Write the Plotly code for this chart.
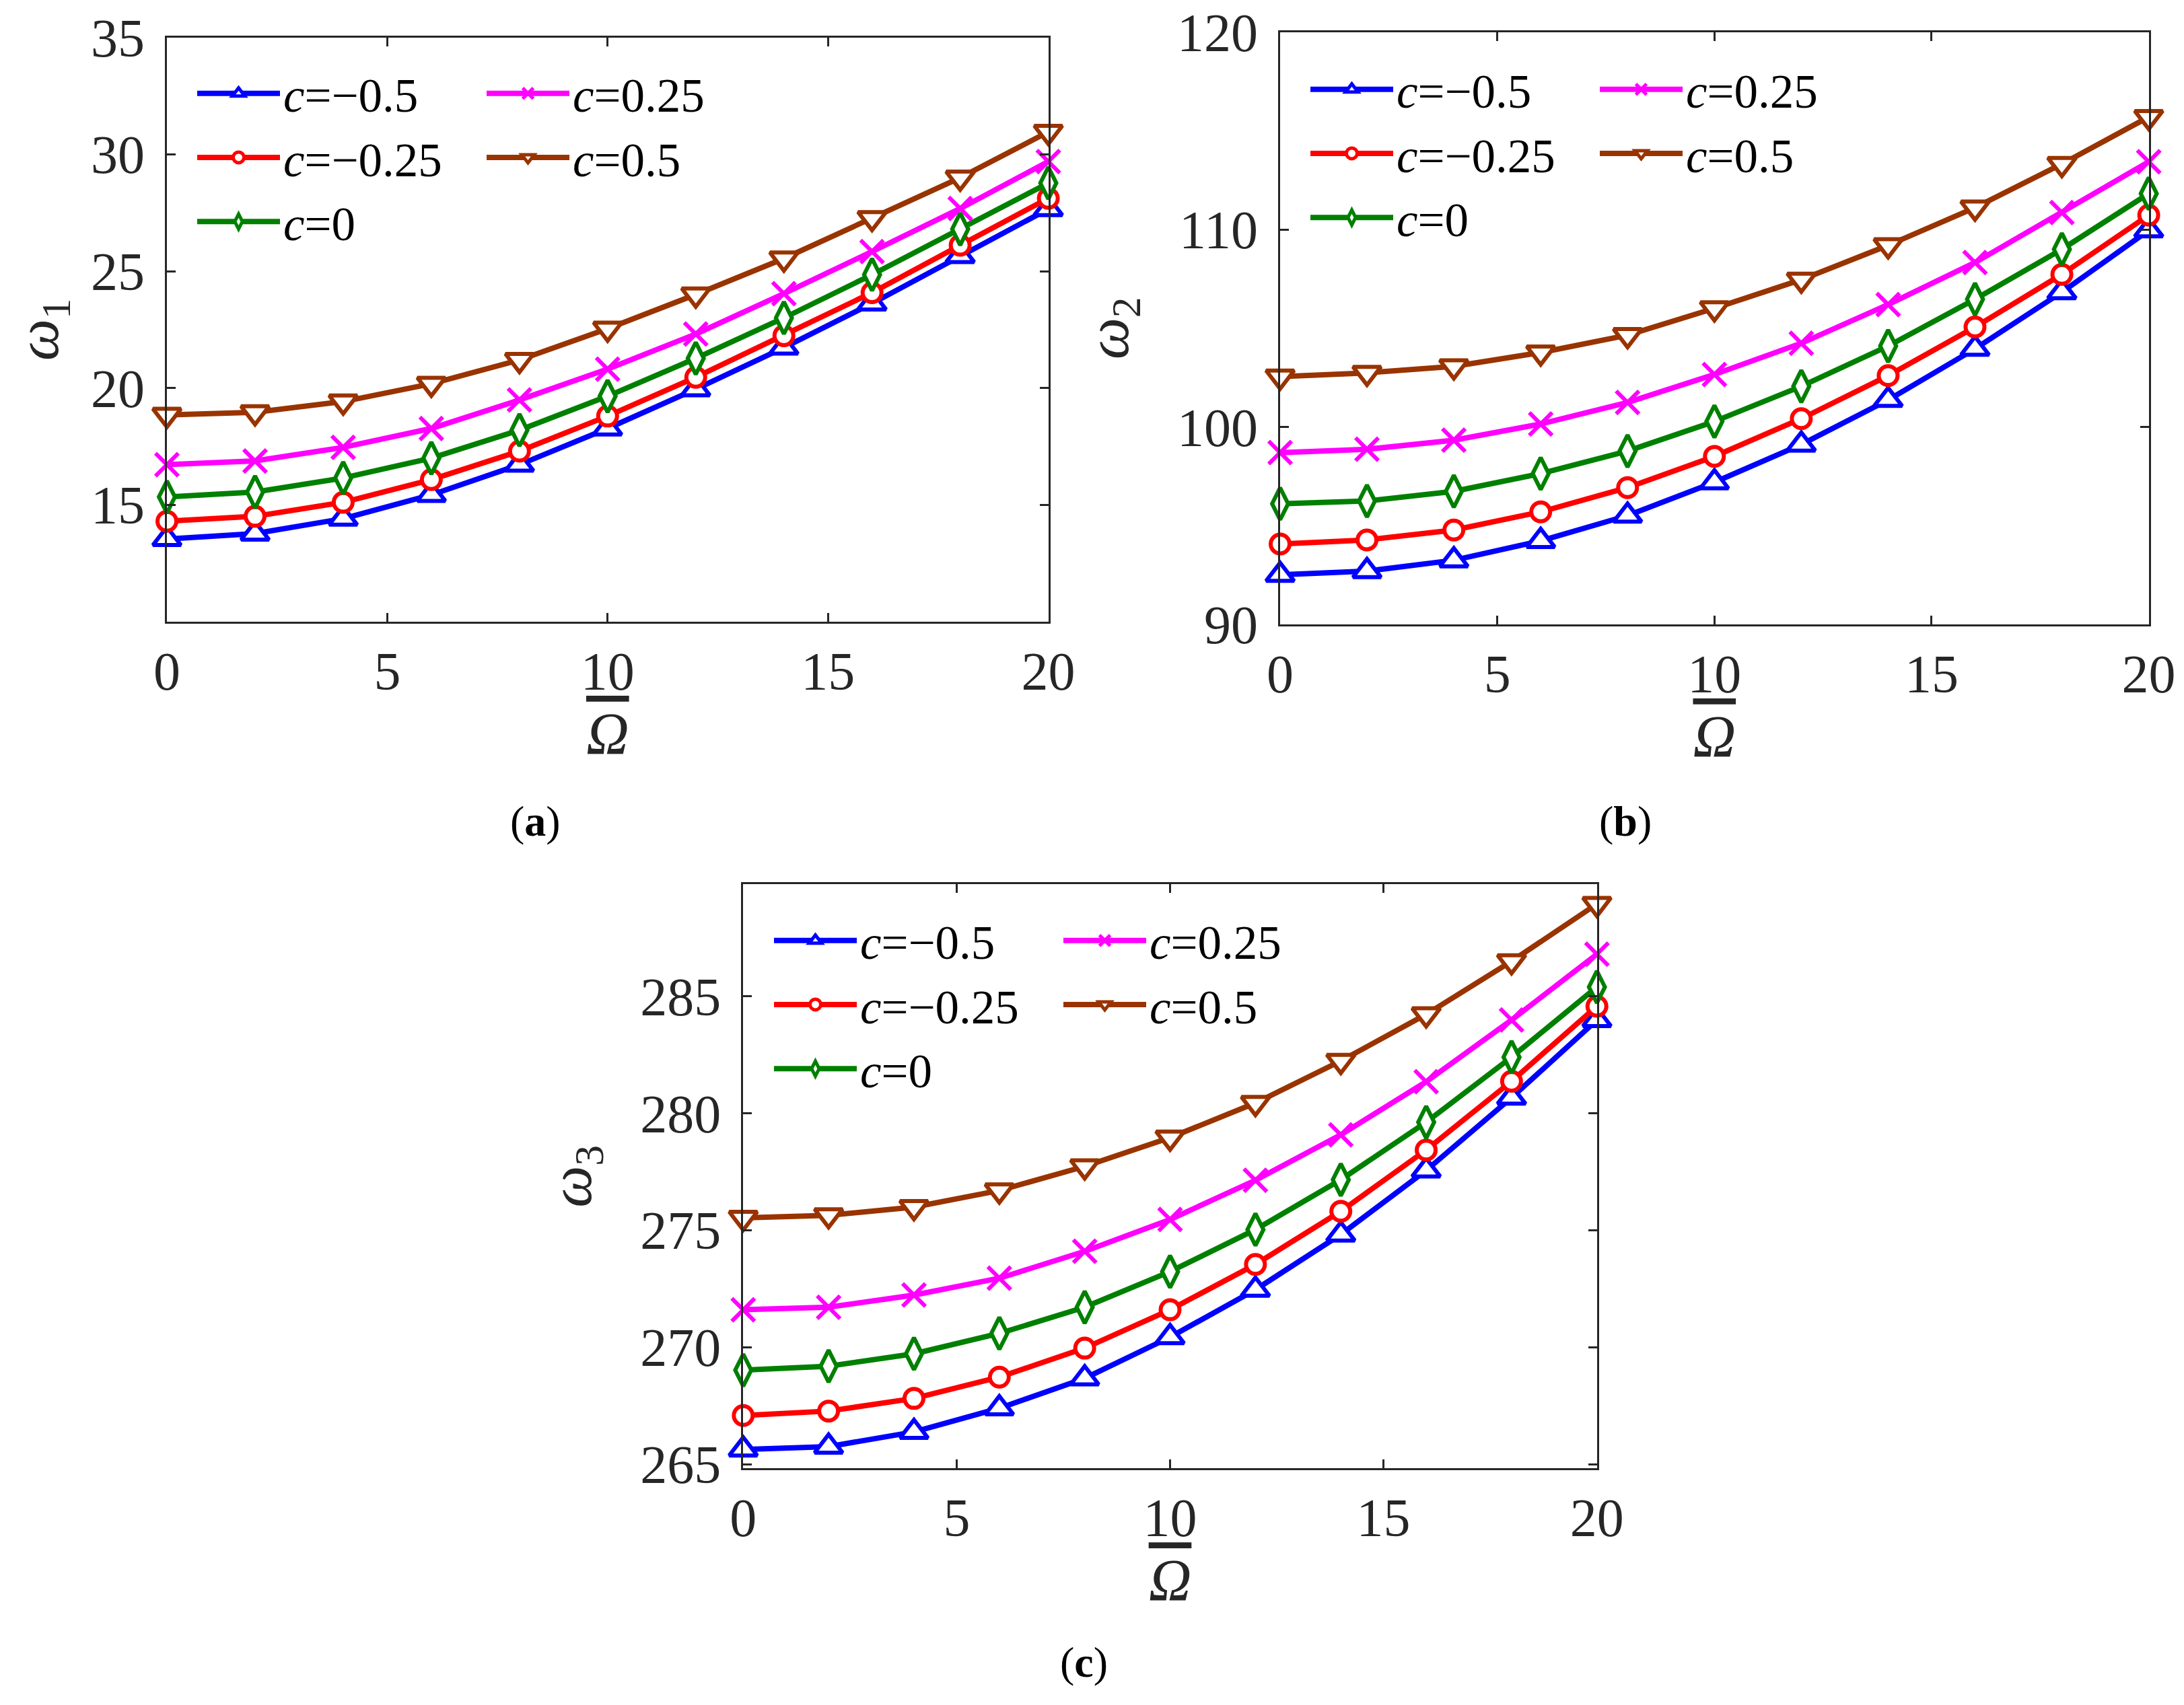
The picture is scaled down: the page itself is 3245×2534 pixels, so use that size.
import plotly.graph_objects as go

# rotating speed (x axis)
omega_bar = [0, 2, 4, 6, 8, 10, 12, 14, 16, 18, 20]
c_names = ["<i>c</i>=−0.5", "<i>c</i>=−0.25", "<i>c</i>=0", "<i>c</i>=0.25", "<i>c</i>=0.5"]

# (a) first natural frequency
w1_m050 = [13.54, 13.77, 14.41, 15.43, 16.72, 18.27, 19.95, 21.73, 23.62, 25.65, 27.66]
w1_m025 = [14.30, 14.51, 15.11, 16.08, 17.30, 18.80, 20.46, 22.24, 24.08, 26.11, 28.12]
w1_0 = [15.34, 15.55, 16.15, 17.00, 18.20, 19.65, 21.27, 23.00, 24.85, 26.80, 28.77]
w1_p025 = [16.72, 16.88, 17.46, 18.27, 19.49, 20.81, 22.31, 24.04, 25.84, 27.68, 29.69]
w1_p050 = [18.85, 18.96, 19.42, 20.18, 21.20, 22.54, 24.00, 25.54, 27.27, 29.00, 30.96]

# (b) second natural frequency
w2_m050 = [92.51, 92.70, 93.25, 94.23, 95.51, 97.20, 99.11, 101.37, 103.96, 106.83, 109.96]
w2_m025 = [94.07, 94.28, 94.78, 95.70, 96.93, 98.51, 100.42, 102.60, 105.06, 107.73, 110.73]
w2_0 = [96.11, 96.25, 96.74, 97.64, 98.78, 100.28, 102.06, 104.10, 106.47, 109.00, 111.82]
w2_p025 = [98.70, 98.87, 99.33, 100.15, 101.24, 102.66, 104.24, 106.20, 108.33, 110.86, 113.43]
w2_p050 = [102.55, 102.74, 103.07, 103.77, 104.65, 106.01, 107.46, 109.20, 111.11, 113.32, 115.70]

# (c) third natural frequency
w3_m050 = [265.63, 265.75, 266.38, 267.39, 268.67, 270.43, 272.46, 274.82, 277.56, 280.67, 283.99]
w3_m025 = [267.08, 267.27, 267.81, 268.72, 269.96, 271.60, 273.54, 275.81, 278.43, 281.37, 284.58]
w3_0 = [269.02, 269.19, 269.72, 270.59, 271.71, 273.23, 275.03, 277.16, 279.62, 282.40, 285.40]
w3_p025 = [271.60, 271.71, 272.23, 272.95, 274.10, 275.46, 277.14, 279.08, 281.35, 283.99, 286.80]
w3_p050 = [275.53, 275.64, 275.99, 276.70, 277.73, 278.96, 280.44, 282.24, 284.23, 286.50, 288.95]

# page is 3245x2534, body has an 8px margin
OFF = 8
W, H = 3245 - 2 * OFF, 2534 - 2 * OFF
FONT = "Liberation Serif, Times New Roman, serif"
AX = "#262626"

colors = ["#0000FF", "#FF0000", "#008000", "#FF00FF", "#993300"]
symbols = ["triangle-up", "circle", "diamond-tall", "x-thin", "triangle-down"]
sizes = [36, 28, 34, 34, 36]


def fx(px):
    return (px - OFF) / W


def fy(py):
    return 1 - (py - OFF) / H


panels = [
    dict(ys=[w1_m050, w1_m025, w1_0, w1_p025, w1_p050], ax="", title="<i>ω</i><sub>1</sub>",
         ticks=[15, 20, 25, 30, 35], rng=[10, 35], ystand=54,
         px=(248, 1557.6, 55.7, 924), leg=(296, 86), lab=("(<b>a</b>)", 795, 1220)),
    dict(ys=[w2_m050, w2_m025, w2_0, w2_p025, w2_p050], ax="2", title="<i>ω</i><sub>2</sub>",
         ticks=[90, 100, 110, 120], rng=[90, 120], ystand=44,
         px=(1902, 3192.6, 47.7, 928), leg=(1950, 80), lab=("(<b>b</b>)", 2415, 1220)),
    dict(ys=[w3_m050, w3_m025, w3_0, w3_p025, w3_p050], ax="3", title="<i>ω</i><sub>3</sub>",
         ticks=[265, 270, 275, 280, 285], rng=[264.82, 289.79], ystand=44,
         px=(1104.3, 2372.7, 1314.3, 2182.3), leg=(1153, 1345), lab=("(<b>c</b>)", 1610, 2470)),
]

fig = go.Figure()
layout = {}
annotations = []
leg_idx = 1
for p in panels:
    l, r, t, b = p["px"]
    xa, ya = "x" + p["ax"], "y" + p["ax"]
    leg_a = "legend" if leg_idx == 1 else "legend%d" % leg_idx
    leg_b = "legend%d" % (leg_idx + 1)
    for i, y in enumerate(p["ys"]):
        fig.add_trace(go.Scatter(
            x=omega_bar, y=y, name=c_names[i], xaxis=xa, yaxis=ya,
            legend=leg_a if i < 3 else leg_b,
            mode="lines+markers", cliponaxis=False,
            line=dict(color=colors[i], width=8),
            marker=dict(symbol=symbols[i], size=sizes[i], color="white",
                        line=dict(color=colors[i], width=6)),
        ))
    axis_common = dict(showline=True, linecolor=AX, linewidth=3, mirror="ticks",
                       ticks="inside", ticklen=13, tickwidth=2.5, tickcolor=AX,
                       showgrid=False, zeroline=False, automargin=False,
                       ticklabeloverflow="allow",
                       tickfont=dict(family=FONT, size=80, color=AX))
    layout["xaxis" + p["ax"]] = dict(
        axis_common, domain=[fx(l), fx(r)], anchor=ya, range=[0, 20],
        tickvals=[0, 5, 10, 15, 20], ticklabelstandoff=2,
        title=dict(text='<span style="text-decoration:overline"><i>Ω</i></span>',
                   font=dict(family=FONT, size=88, color=AX), standoff=16))
    layout["yaxis" + p["ax"]] = dict(
        axis_common, domain=[fy(b), fy(t)], anchor=xa, range=p["rng"],
        tickvals=p["ticks"], ticklabelstandoff=14,
        title=dict(text=p["title"], font=dict(family=FONT, size=88, color=AX),
                   standoff=p["ystand"]))
    lx, ly = p["leg"]
    for k, off in enumerate([0, 430]):
        name = "legend" if (leg_idx + k) == 1 else "legend%d" % (leg_idx + k)
        layout[name] = dict(x=fx(lx + off - 8), y=fy(ly), xanchor="left", yanchor="top",
                            orientation="v", itemwidth=123, bgcolor="rgba(0,0,0,0)",
                            font=dict(family=FONT, size=71, color="black"))
    leg_idx += 2
    text, ax_px, ay_px = p["lab"]
    annotations.append(dict(text=text, x=fx(ax_px), y=fy(ay_px), xref="paper", yref="paper",
                            showarrow=False, xanchor="center", yanchor="middle",
                            font=dict(family=FONT, size=64, color="black")))

fig.update_layout(
    width=W, height=H, margin=dict(l=0, r=0, t=0, b=0, autoexpand=False),
    paper_bgcolor="white", plot_bgcolor="white",
    annotations=annotations, showlegend=True,
    **layout
)

fig.write_html("out.html")
